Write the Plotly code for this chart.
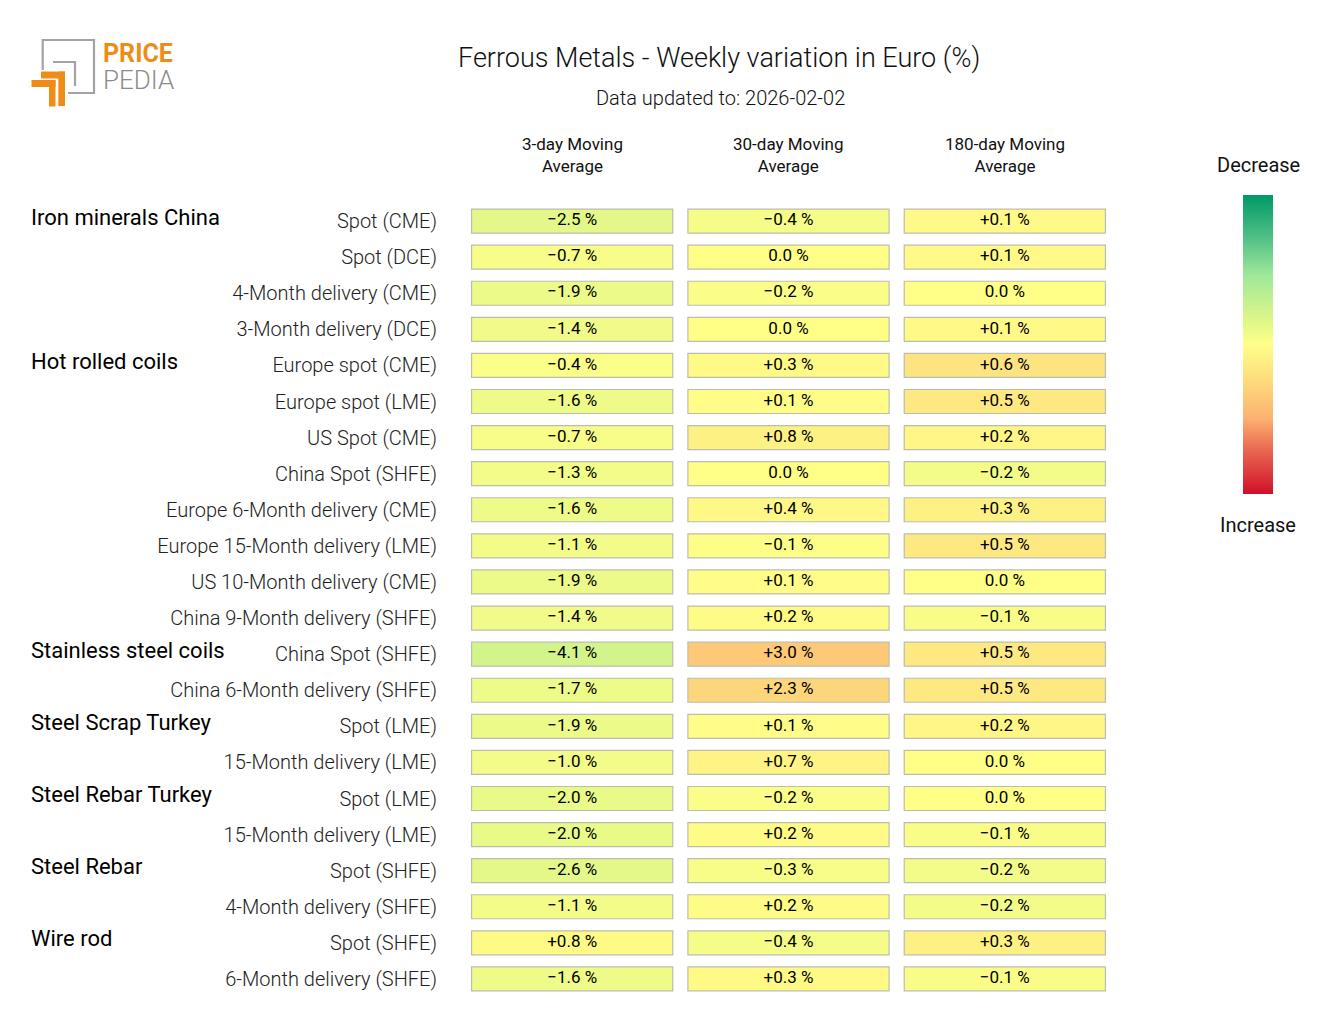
import plotly.graph_objects as go

# ---------------- data ----------------
groups = ["Iron minerals China", "Hot rolled coils", "Stainless steel coils",
          "Steel Scrap Turkey", "Steel Rebar Turkey", "Steel Rebar", "Wire rod"]
group_first_row = [0, 4, 12, 14, 16, 18, 20]

row_labels = [
    "Spot (CME)", "Spot (DCE)", "4-Month delivery (CME)", "3-Month delivery (DCE)",
    "Europe spot (CME)", "Europe spot (LME)", "US Spot (CME)", "China Spot (SHFE)",
    "Europe 6-Month delivery (CME)", "Europe 15-Month delivery (LME)",
    "US 10-Month delivery (CME)", "China 9-Month delivery (SHFE)",
    "China Spot (SHFE)", "China 6-Month delivery (SHFE)",
    "Spot (LME)", "15-Month delivery (LME)",
    "Spot (LME)", "15-Month delivery (LME)",
    "Spot (SHFE)", "4-Month delivery (SHFE)",
    "Spot (SHFE)", "6-Month delivery (SHFE)",
]

columns = ["3-day Moving<br>Average", "30-day Moving<br>Average", "180-day Moving<br>Average"]

ma3 = [-2.5, -0.7, -1.9, -1.4, -0.4, -1.6, -0.7, -1.3, -1.6, -1.1, -1.9, -1.4,
       -4.1, -1.7, -1.9, -1.0, -2.0, -2.0, -2.6, -1.1, 0.8, -1.6]
ma30 = [-0.4, 0.0, -0.2, 0.0, 0.3, 0.1, 0.8, 0.0, 0.4, -0.1, 0.1, 0.2,
        3.0, 2.3, 0.1, 0.7, -0.2, 0.2, -0.3, 0.2, -0.4, 0.3]
ma180 = [0.1, 0.1, 0.0, 0.1, 0.6, 0.5, 0.2, -0.2, 0.3, 0.5, 0.0, -0.1,
         0.5, 0.5, 0.2, 0.0, 0.0, -0.1, -0.2, -0.2, 0.3, -0.1]
series = [ma3, ma30, ma180]
color_ranges = [19.0, 8.5, 3.3]   # colour-scale half ranges per column

# ---------------- styling ----------------
FONT = "Roboto"
# colorscale from bottom (increase, red) to top (decrease, green)
cscale = [
    [0.0, "#d0102a"], [0.15, "#e86a50"], [0.25, "#fcb070"], [0.35, "#fdd27a"],
    [0.5, "#ffff88"], [0.6, "#d6f58a"], [0.73, "#a0e89a"], [0.86, "#4fbf85"],
    [1.0, "#009966"],
]

OFF = 8  # page body margin
W, H = 1320 - OFF, 1020 - OFF
L, R, T, B = 464 - OFF, 207, 203 - OFF, 23
PW, PH = W - L - R, H - T - B


def px(x):
    return (x - OFF - L) / PW


def py(y):
    return (H - B - (y - OFF)) / PH


def fmt(v):
    if abs(v) < 0.05:
        return "0.0 %"
    s = "+" if v > 0 else "\u2212"
    return f"{s}{abs(v):.1f} %"


rows = list(range(len(row_labels)))
fig = go.Figure()
for j, vals in enumerate(series):
    rng = color_ranges[j]
    fig.add_trace(go.Bar(
        orientation="h",
        y=rows,
        x=[0.93] * len(rows),
        base=[j - 0.465] * len(rows),
        width=0.665,
        marker=dict(
            color=[-v for v in vals],
            colorscale=cscale, cmin=-rng, cmax=rng,
            line=dict(color="#bdbdae", width=1.2),
            showscale=(j == 0),
            colorbar=dict(
                thickness=30, thicknessmode="pixels",
                len=299, lenmode="pixels",
                x=px(1243), xanchor="left", xref="paper", xpad=0,
                y=py(344.5), yanchor="middle", yref="paper", ypad=0,
                showticklabels=False, ticks="", outlinewidth=0,
            ) if j == 0 else None,
        ),
        hoverinfo="skip",
        showlegend=False,
    ))
    fig.add_trace(go.Scatter(
        x=[j] * len(rows), y=rows, mode="text",
        text=[fmt(v) for v in vals],
        textposition="middle center",
        textfont=dict(family=FONT, size=17, color="#000"),
        hoverinfo="skip", showlegend=False,
    ))

annotations = []
# column headers
for j, c in enumerate(columns):
    annotations.append(dict(x=j, xref="x", y=py(155), yref="paper", text=c,
                            showarrow=False, xanchor="center", yanchor="middle",
                            font=dict(family=FONT, size=17, color="#111")))
# group labels
for g, r in zip(groups, group_first_row):
    annotations.append(dict(x=px(29), xref="paper", y=r, yref="y", yshift=4, text=g,
                            showarrow=False, xanchor="left", yanchor="middle",
                            font=dict(family=FONT, size=22, color="#000")))
# title & subtitle
annotations.append(dict(x=px(719), xref="paper", y=py(58), yref="paper",
                        text="Ferrous Metals - Weekly variation in Euro (%)",
                        showarrow=False, xanchor="center", yanchor="middle",
                        font=dict(family=FONT, size=27, color="#111", weight=300)))
annotations.append(dict(x=px(720), xref="paper", y=py(98), yref="paper",
                        text="Data updated to: 2026-02-02",
                        showarrow=False, xanchor="center", yanchor="middle",
                        font=dict(family=FONT, size=20, color="#111", weight=300)))
# colorbar labels
annotations.append(dict(x=px(1258), xref="paper", y=py(165), yref="paper", text="Decrease",
                        showarrow=False, xanchor="center", yanchor="middle",
                        font=dict(family=FONT, size=20, color="#111")))
annotations.append(dict(x=px(1258), xref="paper", y=py(525), yref="paper", text="Increase",
                        showarrow=False, xanchor="center", yanchor="middle",
                        font=dict(family=FONT, size=20, color="#111")))
# logo text (single block, two lines)
annotations.append(dict(
    x=px(101), xref="paper", y=py(67), yref="paper",
    text=("<b><span style='color:#ef8c17;font-size:25px'>PRICE</span></b><br>"
          "<span style='color:#8c8c8c;font-size:26px;font-weight:300'>PEDIA</span>"),
    showarrow=False, xanchor="left", yanchor="middle", align="left",
    font=dict(family=FONT, size=21, color="#8c8c8c")))


# logo shapes (paper coords)
def pth(points):
    return "M " + " L ".join(f"{px(x):.5f},{py(y):.5f}" for x, y in points)


shapes = [
    dict(type="path", xref="paper", yref="paper",
         path=pth([(68, 93), (94, 93), (94, 40), (42.7, 40), (42.7, 70)]),
         line=dict(color="#a3a3a3", width=2.2)),
    dict(type="path", xref="paper", yref="paper",
         path=pth([(53, 62), (75, 62), (75, 86)]),
         line=dict(color="#a3a3a3", width=2.2)),
]
for (x0, x1, y0, y1) in [(41, 65, 71.5, 78.5), (58.3, 65, 71.5, 106),
                         (31.5, 55.5, 80, 87), (49, 55.5, 80, 106.5)]:
    shapes.append(dict(type="rect", xref="paper", yref="paper",
                       x0=px(x0), x1=px(x1), y0=py(y0), y1=py(y1),
                       fillcolor="#ef8c17", line=dict(width=0)))

fig.update_layout(
    width=W, height=H,
    margin=dict(l=L, r=R, t=T, b=B, autoexpand=False),
    paper_bgcolor="white", plot_bgcolor="white",
    barmode="overlay",
    xaxis=dict(range=[-0.5, 2.5], showgrid=False, zeroline=False,
               showticklabels=False, fixedrange=True),
    yaxis=dict(range=[21.5, -0.5], tickvals=rows, ticktext=row_labels,
               showgrid=False, zeroline=False, ticks="",
               ticklabelstandoff=26,
               tickfont=dict(family=FONT, size=20, color="#222", weight=300)),
    annotations=annotations,
    shapes=shapes,
    font=dict(family=FONT),
)

fig.write_html("out.html")
